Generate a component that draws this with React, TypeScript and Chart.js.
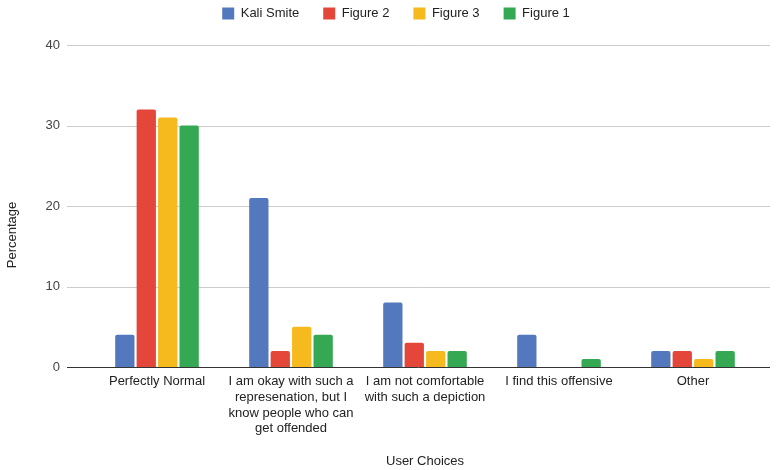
import React, { useEffect, useRef } from "react";
import { Chart, registerables } from "chart.js";

Chart.register(...registerables);

const categories: (string | string[])[] = [
  "Perfectly Normal",
  ["I am okay with such a", "represenation, but I", "know people who can", "get offended"],
  ["I am not comfortable", "with such a depiction"],
  "I find this offensive",
  "Other",
];
const seriesNames = ["Kali Smite", "Figure 2", "Figure 3", "Figure 1"];
const kaliSmite = [4, 21, 8, 4, 2];
const figure2 = [32, 2, 3, 0, 2];
const figure3 = [31, 5, 2, 0, 1];
const figure1 = [30, 4, 2, 1, 2];
const colors = ["#5478be", "#e4473a", "#f6b91e", "#34a853"];
const yTicks = [0, 10, 20, 30, 40];
const yTitle = "Percentage";
const xTitle = "User Choices";

const FONT = "'Liberation Sans', Arial, sans-serif";

const gridPlugin = {
  id: "extGrid",
  afterLayout(chart: any) {
    const lg = chart.legend;
    if (lg) {
      lg.top -= 15;
      lg.bottom -= 15;
      lg.left += 16;
      lg.right += 16;
    }
  },
  beforeDatasetsDraw(chart: any) {
    const { ctx, chartArea, scales } = chart;
    const y = scales.y;
    ctx.save();
    yTicks.forEach((v) => {
      const py = Math.round(y.getPixelForValue(v)) + 0.5;
      ctx.beginPath();
      ctx.strokeStyle = v === 0 ? "#333333" : "#cccccc";
      ctx.lineWidth = 1;
      ctx.moveTo(67, py);
      ctx.lineTo(chartArea.right + 10, py);
      ctx.stroke();
    });
    ctx.restore();
  },
  afterDraw(chart: any) {
    const { ctx } = chart;
    ctx.save();
    ctx.translate(12, 235);
    ctx.rotate(-Math.PI / 2);
    ctx.fillStyle = "#222";
    ctx.font = `13px ${FONT}`;
    ctx.textAlign = "center";
    ctx.textBaseline = "middle";
    ctx.fillText(yTitle, 0, 0);
    ctx.restore();
  },
};

export default function App() {
  const ref = useRef<HTMLCanvasElement>(null);
  useEffect(() => {
    if (!ref.current) return;
    const data = [kaliSmite, figure2, figure3, figure1];
    const chart = new Chart(ref.current, {
      type: "bar",
      data: {
        labels: categories,
        datasets: seriesNames.map((name, i) => ({
          label: name,
          data: data[i],
          backgroundColor: colors[i],
          borderRadius: 2,
          borderSkipped: "bottom",
          categoryPercentage: 0.64,
          barPercentage: 0.9,
        })),
      },
      options: {
        responsive: false,
        animation: false,
        layout: { padding: { top: -2, right: 18, left: 0, bottom: 1 } },
        plugins: {
          legend: {
            position: "top",
            labels: {
              boxWidth: 12,
              boxHeight: 12,
              padding: 24,
              color: "#222",
              font: { family: FONT, size: 13 },
            },
          },
          tooltip: { enabled: false },
        },
        scales: {
          x: {
            grid: { display: false, drawTicks: false },
            border: { display: false },
            ticks: {
              color: "#222",
              font: { family: FONT, size: 13 },
              maxRotation: 0,
              autoSkip: false,
              padding: 7,
            },
            title: {
              display: true,
              text: xTitle,
              color: "#222",
              font: { family: FONT, size: 13 },
              padding: { top: 0, bottom: 0 },
            },
            afterFit(scale: any) {
              scale.height = 102;
            },
          },
          y: {
            min: 0,
            max: 40,
            grid: { display: false, drawTicks: false },
            border: { display: false },
            ticks: {
              stepSize: 10,
              color: "#444",
              font: { family: FONT, size: 13 },
              padding: 30,
            },
            afterFit(scale: any) {
              scale.width = 90;
            },
          },
        },
      },
      plugins: [gridPlugin],
    });
    return () => chart.destroy();
  }, []);
  return (
    <div style={{ position: "fixed", left: 0, top: 0, width: 778, height: 470, background: "#fff" }}>
      <canvas ref={ref} width={778} height={470} style={{ width: 778, height: 470 }} />
    </div>
  );
}
